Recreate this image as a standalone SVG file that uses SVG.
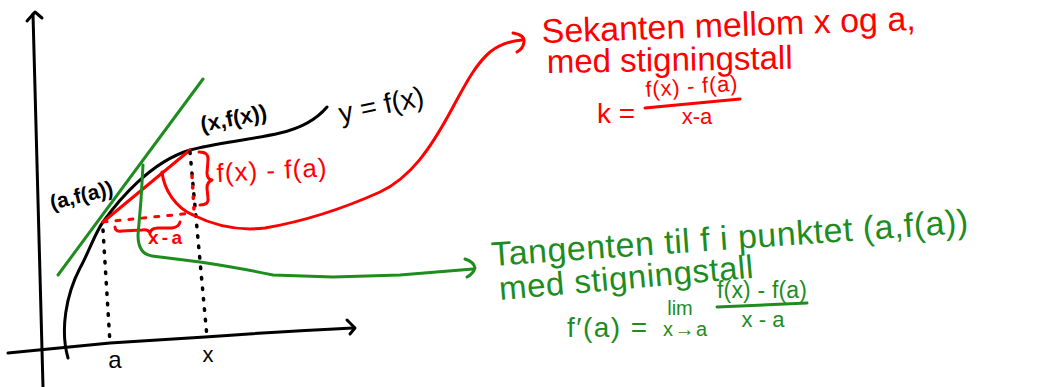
<svg xmlns="http://www.w3.org/2000/svg" width="1062" height="387" viewBox="0 0 1062 387">
<style>
.ln{fill:none;stroke-linecap:round;stroke-linejoin:round;stroke-width:3}
.k{stroke:#000}
.r{stroke:#ff0000}
.g{stroke:#1e8c1e}
.dot{stroke-dasharray:1.5 9;stroke-width:3.5}
.t{font-family:"Liberation Sans",Arial,sans-serif}
.tk{fill:#000}
.tr{fill:#ff0000}
.tg{fill:#1e8c1e}
</style>
<rect width="1062" height="387" fill="#fff"/>
<g id="axes">
<path class="ln k" d="M33,14 C36,120 40,250 43,387"/>
<path class="ln k" d="M27,21 L35,12 L42,18"/>
<path class="ln k" d="M8,353 L110,343 L205,337 C260,333 310,330 353,328"/>
<path class="ln k" d="M347,320 L355,328 L350,334"/>
<text class="t tk" x="115" y="368" font-size="24" text-anchor="middle">a</text>
<text class="t tk" x="208" y="362" font-size="22" text-anchor="middle">x</text>
</g>
<g id="curve">
<path class="ln k" d="M68,358 C60,330 66,295 80,268 C88,254 95,233 103,222 C118,201 150,162 190,150 C215,143 250,140 280,133 C302,128 316,120 327,107"/>
<text class="t tk" x="341" y="123" font-size="28" transform="rotate(-12 341 123)">y = f(x)</text>
</g>
<g id="tangent-line">
<path class="ln g" d="M58,275 L203,79"/>
</g>
<g id="secant">
<path class="ln r" d="M103,222 L190,150"/>
<path class="ln r" d="M103,222 L193,213" stroke-dasharray="4 9"/>
</g>
<g id="guides">
<path class="ln k dot" d="M103,230 L110,343"/>
<path class="ln k dot" d="M190,152 L207,337"/>
<path class="ln r dot" d="M192,176 L194,210"/>
</g>
<g id="point-a">
<text class="t tk" x="52" y="210" font-size="21" font-weight="bold" transform="rotate(-14 52 210)">(a,f(a))</text>
</g>
<g id="point-x">
<text class="t tk" x="202" y="132" font-size="22" font-weight="bold" transform="rotate(-11 202 132)">(x,f(x))</text>
</g>
<g id="delta-y">
<path class="ln r" d="M199,152 Q209,152 208,160 L207,173 Q207,179 212,180 Q207,182 207,188 L208,198 Q209,205 200,205"/>
<text class="t tr" x="217" y="182" font-size="26" textLength="110" transform="rotate(-3 217 182)">f(x) - f(a)</text>
</g>
<g id="delta-x">
<path class="ln r" d="M115,227 Q115,232 122,231 L142,230 Q148,229 150,233 Q151,228 158,228 L172,228 Q179,227 180,222"/>
<text class="t tr" x="148" y="244" font-size="19" font-weight="bold" textLength="34">x-a</text>
</g>
<g id="secant-text">
<text class="t tr" x="542" y="43" font-size="34" transform="rotate(-2 542 43)">Sekanten mellom x og a,</text>
<text class="t tr" x="547" y="73" font-size="33" transform="rotate(-1 547 73)">med stigningstall</text>
<text class="t tr" x="597" y="123" font-size="28">k =</text>
<text class="t tr" x="646" y="97" font-size="22" textLength="92" transform="rotate(-4 646 97)">f(x) - f(a)</text>
<path class="ln r" d="M645,108 L740,99"/>
<text class="t tr" x="697" y="124" font-size="22" text-anchor="middle">x-a</text>
</g>
<g id="tangent-text">
<text class="t tg" x="492" y="266" font-size="34" textLength="478" transform="rotate(-4 492 266)">Tangenten til f i punktet (a,f(a))</text>
<text class="t tg" x="500" y="300" font-size="33" textLength="255" transform="rotate(-5 500 300)">med stigningstall</text>
<text class="t tg" x="567" y="337" font-size="28" textLength="80">f′(a) =</text>
<text class="t tg" x="680" y="315" font-size="20" text-anchor="middle">lim</text>
<text class="t tg" x="685" y="336" font-size="20" text-anchor="middle" textLength="44">x→a</text>
<text class="t tg" x="762" y="298" font-size="23" text-anchor="middle" textLength="90">f(x) - f(a)</text>
<path class="ln g" d="M717,307 L807,303"/>
<text class="t tg" x="763" y="327" font-size="22" text-anchor="middle">x - a</text>
</g>
<g id="connectors">
<path class="ln r" d="M162,172 C164,190 176,208 193,215 C215,226 240,231 265,228 C300,222 340,210 380,192 C410,178 430,150 453,107 C465,85 475,65 490,52 C500,44 510,41 522,40"/>
<path class="ln r" d="M513,33 Q525,35 524,42 Q523,49 517,52"/>
<path class="ln g" d="M143,165 L141,200 L138,235 Q138,254 152,256 L200,262 Q240,268 273,275 L333,277 L400,275 L473,269"/>
<path class="ln g" d="M465,259 Q474,262 475,268 Q473,274 467,277"/>
</g>
</svg>
